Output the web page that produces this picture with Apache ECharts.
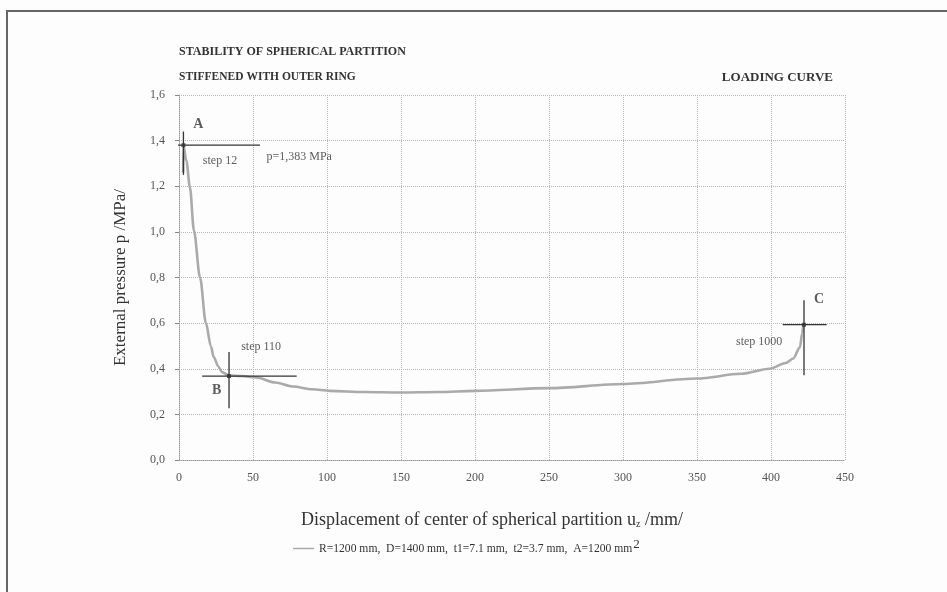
<!DOCTYPE html>
<html>
<head>
<meta charset="utf-8">
<script src="https://cdn.jsdelivr.net/npm/echarts@6/dist/echarts.min.js"></script>
<style>
html, body { margin: 0; padding: 0; background: #fdfdfd; }
#main { width: 947px; height: 592px; }
</style>
</head>
<body>
<div id="main"></div>
<script>
var chartDom = document.getElementById('main');
var myChart = echarts.init(chartDom);
var option;

// loading curve: displacement u (mm) vs pressure p (MPa)
var uData = [2.8, 3, 5, 7.4, 10.1, 14.2, 18.2, 21.5, 23.5, 26.6, 29, 33.8, 42, 52, 65, 77, 90, 102, 125, 150, 175, 200, 250, 300, 350, 380, 399, 410, 415, 419.6, 421, 421.8];
var pData = [1.26, 1.38, 1.31, 1.195, 1.005, 0.80, 0.60, 0.50, 0.45, 0.41, 0.385, 0.37, 0.368, 0.362, 0.34, 0.322, 0.31, 0.303, 0.298, 0.296, 0.298, 0.303, 0.315, 0.333, 0.357, 0.378, 0.40, 0.425, 0.445, 0.495, 0.554, 0.593];

var xTicks = [0, 50, 100, 150, 200, 250, 300, 350, 400, 450];
var yTicks = [0, 0.2, 0.4, 0.6, 0.8, 1.0, 1.2, 1.4, 1.6];

// cross hairs at the marked steps: [u, p, uFrom, uTo, pFrom, pTo]
var crossA = [3, 1.38, -8.3, 54.7, 1.25, 1.44];
var crossB = [33.8, 0.368, 15.7, 79.5, 0.227, 0.473];
var crossC = [422.3, 0.593, 407.9, 437.6, 0.372, 0.70];

// annotations: [u, p, text, bold]
var notes = [
    [13, 1.472, 'A', true],
    [27.7, 1.311, 'step 12', false],
    [81.2, 1.329, 'p=1,383 MPa', false],
    [55.5, 0.495, 'step 110', false],
    [25.5, 0.306, 'B', true],
    [392, 0.52, 'step 1000', false],
    [432.4, 0.704, 'C', true]
];

var serif = '"Liberation Serif", "DejaVu Serif", serif';

function crossSeries(c) {
    return [{
        type: 'line', clip: false, silent: true, symbol: 'none',
        lineStyle: { color: '#333', width: 1.3 },
        data: [[c[2], c[1]], [c[3], c[1]]], z: 5
    }, {
        type: 'line', clip: false, silent: true, symbol: 'none',
        lineStyle: { color: '#333', width: 1.3 },
        data: [[c[0], c[4]], [c[0], c[5]]], z: 5
    }, {
        type: 'scatter', clip: false, silent: true, symbol: 'rect', symbolSize: 4,
        itemStyle: { color: '#333' },
        data: [[c[0], c[1]]], z: 6
    }];
}

var curve = uData.map(function (u, i) { return [u, pData[i]]; });

var series = [{
    name: 'legend',
    type: 'line',
    smooth: 0.3,
    smoothMonotone: 'x',
    showSymbol: false,
    symbol: 'none',
    lineStyle: { color: '#aaaaaa', width: 2.6 },
    itemStyle: { color: '#aaaaaa' },
    data: curve,
    z: 3
}];
series = series.concat(crossSeries(crossA), crossSeries(crossB), crossSeries(crossC));
series.push({
    type: 'scatter',
    clip: false,
    silent: true,
    symbolSize: 0,
    data: notes.map(function (n) {
        return {
            value: [n[0], n[1]],
            label: {
                show: true,
                position: 'inside',
                formatter: n[2],
                fontFamily: serif,
                fontSize: n[3] ? 14 : 12,
                fontWeight: n[3] ? 'bold' : 'normal',
                color: '#333'
            }
        };
    }),
    z: 7
});

option = {
    backgroundColor: '#fdfdfd',
    animation: false,
    textStyle: { fontFamily: serif },
    graphic: [
        { type: 'rect', shape: { x: 7, y: 11, width: 1000, height: 700 },
          style: { fill: 'none', stroke: '#666', lineWidth: 2 }, silent: true },
        { type: 'text', x: 179, y: 52,
          style: { text: 'STABILITY OF SPHERICAL PARTITION', font: 'bold 12px ' + serif, fill: '#333', verticalAlign: 'middle' } },
        { type: 'text', x: 179, y: 77,
          style: { text: 'STIFFENED WITH OUTER RING', font: 'bold 11.5px ' + serif, fill: '#333', verticalAlign: 'middle' } },
        { type: 'text', x: 833, y: 78,
          style: { text: 'LOADING CURVE', font: 'bold 13px ' + serif, fill: '#333', align: 'right', verticalAlign: 'middle' } }
    ],
    grid: { left: 179, right: 102, top: 95, bottom: 132 },
    legend: {
        top: 533,
        left: 288,
        icon: 'rect',
        itemWidth: 21,
        itemHeight: 1.5,
        itemGap: 4,
        data: ['legend'],
        formatter: function () {
            return '{t|R=1200 mm,  D=1400 mm,  t1=7.1 mm,  t2=3.7 mm,  A=1200 mm}{s|2}';
        },
        textStyle: {
            color: '#333',
            rich: {
                t: { fontFamily: serif, fontSize: 11.6, color: '#333' },
                s: { fontFamily: serif, fontSize: 13, color: '#333', padding: [0, 0, 8, 1] }
            }
        }
    },
    xAxis: {
        type: 'value',
        min: 0,
        max: 450,
        interval: 50,
        name: 'Displacement of center of spherical partition u{sub|z} /mm/',
        nameLocation: 'middle',
        nameGap: 51,
        nameTextStyle: {
            fontFamily: serif, fontSize: 18, color: '#333',
            padding: [0, 40, 0, 0],
            rich: { sub: { fontFamily: serif, fontSize: 10, color: '#333', padding: [8, 0, 0, 0] } }
        },
        axisLine: { show: true, lineStyle: { color: '#999', type: 'dotted' } },
        axisTick: { show: false },
        axisLabel: {
            color: '#555', fontSize: 12, margin: 12,
            formatter: function (v) { return xTicks.indexOf(v) >= 0 ? String(v) : ''; }
        },
        splitLine: { show: true, lineStyle: { color: '#b5b5b5', type: 'dotted' } }
    },
    yAxis: {
        type: 'value',
        min: 0,
        max: 1.6,
        interval: 0.2,
        name: 'External pressure p /MPa/',
        nameLocation: 'middle',
        nameGap: 50,
        nameTextStyle: { fontFamily: serif, fontSize: 17, color: '#333' },
        axisLine: { show: true, lineStyle: { color: '#999', type: 'dotted' } },
        axisTick: { show: true, length: 4, lineStyle: { color: '#888' } },
        axisLabel: {
            color: '#555', fontSize: 12, margin: 14,
            formatter: function (v) {
                var t = yTicks.reduce(function (a, b) { return Math.abs(b - v) < Math.abs(a - v) ? b : a; });
                return t.toFixed(1).replace('.', ',');
            }
        },
        splitLine: { show: true, lineStyle: { color: '#b5b5b5', type: 'dotted' } }
    },
    series: series
};

option && myChart.setOption(option);
</script>
</body>
</html>
